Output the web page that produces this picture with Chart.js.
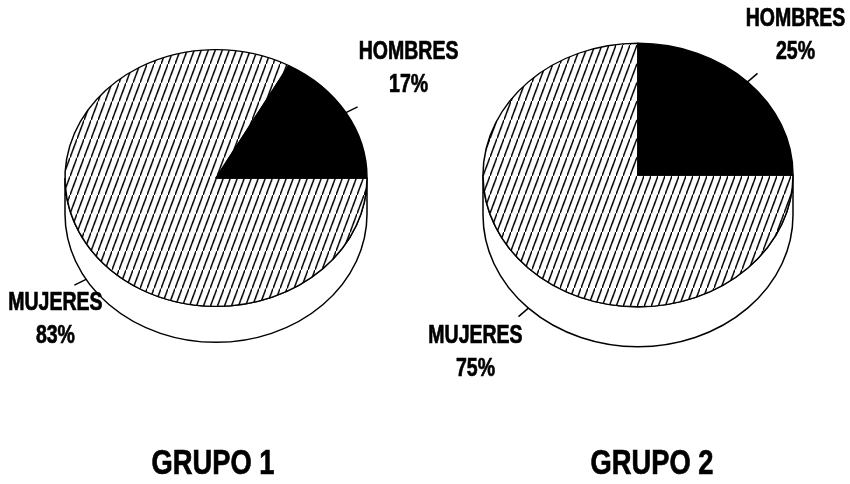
<!DOCTYPE html>
<html>
<head>
<meta charset="utf-8">
<script src="https://cdn.jsdelivr.net/npm/chart.js@4.4.1/dist/chart.umd.min.js"></script>
<style>
  html, body { margin: 0; padding: 0; background: #fff; }
  #wrap { position: relative; width: 850px; height: 484px; }
  canvas { position: absolute; top: 0; left: 0; }
</style>
</head>
<body>
<div id="wrap">
  <canvas id="g1" width="850" height="484"></canvas>
  <canvas id="g2" width="850" height="484"></canvas>
</div>
<script>
  // Datos de cada grupo (porcentajes)
  const categories = ["MUJERES", "HOMBRES"];
  const grupo1 = [83, 17];
  const grupo2 = [75, 25];
  const titulos = ["GRUPO 1", "GRUPO 2"];

  const tapa = 0.85; // aplastamiento vertical de la tapa del pastel

  // Rayado diagonal para MUJERES
  function crearRayado() {
    const tile = document.createElement("canvas");
    tile.width = 7;
    tile.height = 22;
    const c = tile.getContext("2d");
    c.fillStyle = "#fff";
    c.fillRect(0, 0, 7, 22);
    c.strokeStyle = "#000";
    c.lineWidth = 1.5;
    c.beginPath();
    c.moveTo(-7, 44);
    c.lineTo(14, -22);
    c.stroke();
    return c.createPattern(tile, "repeat");
  }
  const rayado = crearRayado();

  // Texto estrecho y en negrita
  function textoEstrecho(ctx, txt, x, y, size) {
    ctx.save();
    ctx.translate(x, y);
    ctx.scale(0.78, 1);
    ctx.font = "bold " + size + "px 'Liberation Sans', Arial, sans-serif";
    ctx.fillStyle = "#000";
    ctx.strokeStyle = "#000";
    ctx.lineWidth = 0.7;
    ctx.textAlign = "center";
    ctx.textBaseline = "middle";
    ctx.fillText(txt, 0, 0);
    ctx.strokeText(txt, 0, 0);
    ctx.restore();
  }

  // Plugin: costado del cilindro, tapa elíptica, etiquetas y título
  const pastel3d = {
    id: "pastel3d",
    beforeDatasetsDraw(chart, args, opts) {
      const arc = chart.getDatasetMeta(0).data[0];
      const x = arc.x, y = arc.y, r = arc.outerRadius;
      const ry = r * tapa, d = opts.depth;
      const ctx = chart.ctx;
      ctx.save();
      ctx.beginPath();
      ctx.moveTo(x - r, y);
      ctx.lineTo(x - r, y + d);
      ctx.ellipse(x, y + d, r, ry, 0, Math.PI, 0, true);
      ctx.lineTo(x + r, y);
      ctx.ellipse(x, y, r, ry, 0, 0, Math.PI, false);
      ctx.closePath();
      ctx.fillStyle = "#fff";
      ctx.fill();
      ctx.lineWidth = 1.5;
      ctx.strokeStyle = "#000";
      ctx.stroke();
      ctx.restore();
      // la tapa se dibuja aplastada
      ctx.save();
      ctx.translate(x, y);
      ctx.scale(1, tapa);
      ctx.translate(-x, -y);
    },
    afterDatasetsDraw(chart) {
      chart.ctx.restore();
    },
    afterDraw(chart, args, opts) {
      const ctx = chart.ctx;
      const meta = chart.getDatasetMeta(0);
      const gap = 33;
      meta.data.forEach((el, i) => {
        const a = (el.startAngle + el.endAngle) / 2;
        const c = Math.cos(a), s = Math.sin(a);
        const ex = el.x + el.outerRadius * c;
        const ey = el.y + el.outerRadius * tapa * s + (s > 0 ? opts.depth : 0);
        const len = Math.hypot(c, s * tapa);
        const ux = c / len, uy = s * tapa / len;
        const fx = ex + ux * 13, fy = ey + uy * 13;
        ctx.save();
        ctx.strokeStyle = "#000";
        ctx.lineWidth = 1.5;
        ctx.beginPath();
        ctx.moveTo(ex, ey);
        ctx.lineTo(fx, fy);
        ctx.stroke();
        ctx.restore();
        const off = opts.offsets[i];
        const valor = chart.data.datasets[0].data[i];
        textoEstrecho(ctx, chart.data.labels[i], fx + off[0], fy + off[1] - gap / 2, 25);
        textoEstrecho(ctx, valor + "%", fx + off[0], fy + off[1] + gap / 2, 25);
      });
      textoEstrecho(ctx, opts.title, opts.titleX, 464, 35);
    }
  };

  function crearPastel(id, valores, titulo, cfg) {
    return new Chart(document.getElementById(id), {
      type: "pie",
      data: {
        labels: categories,
        datasets: [{
          data: valores,
          backgroundColor: [rayado, "#000"],
          borderColor: "#000",
          borderWidth: 1.5,
          rotation: 90,
          radius: cfg.radius
        }]
      },
      options: {
        responsive: false,
        animation: false,
        events: [],
        layout: { padding: cfg.padding },
        plugins: {
          legend: { display: false },
          tooltip: { enabled: false },
          pastel3d: {
            depth: cfg.depth,
            offsets: cfg.offsets,
            title: titulo,
            titleX: cfg.titleX
          }
        }
      },
      plugins: [pastel3d]
    });
  }

  // ambos lienzos ocupan todo el ancho; el padding coloca cada pastel
  crearPastel("g1", grupo1, titulos[0], {
    radius: 151,
    padding: { left: 56, right: 474, top: 18, bottom: 146 },
    depth: 36,
    offsets: [[-19, 34], [51, -38]],
    titleX: 213
  });

  crearPastel("g2", grupo2, titulos[1], {
    radius: 155,
    padding: { left: 478, right: 52, top: 15, bottom: 149 },
    depth: 40,
    offsets: [[-43, 36], [38, -38]],
    titleX: 652
  });
</script>
</body>
</html>
